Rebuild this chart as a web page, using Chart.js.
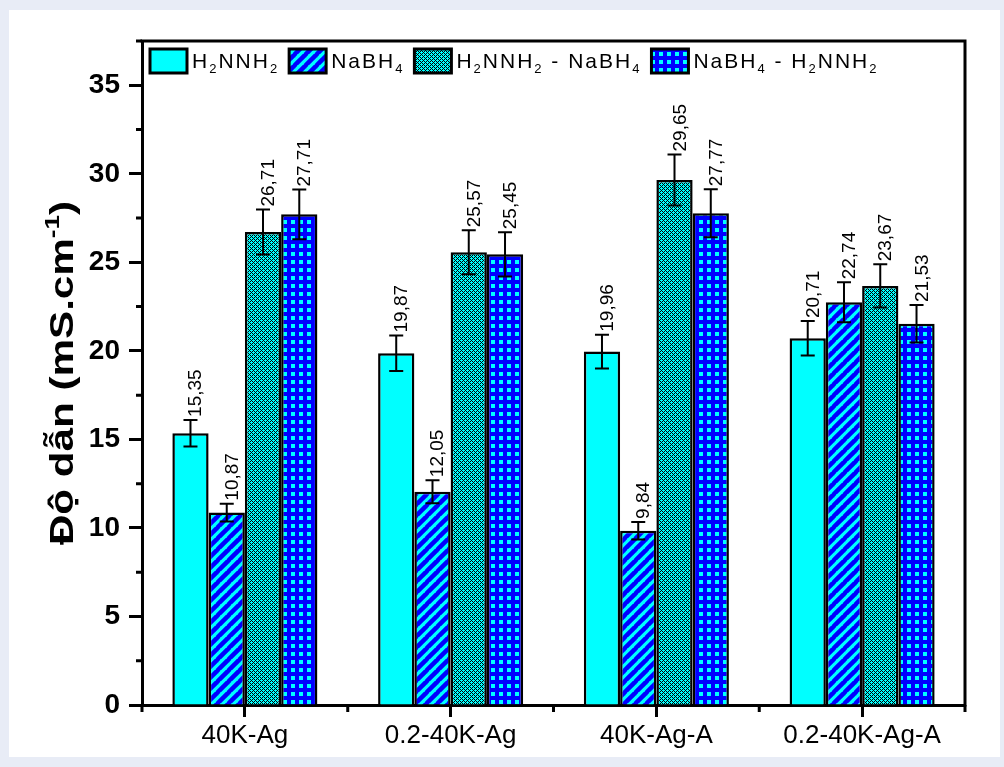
<!DOCTYPE html>
<html><head><meta charset="utf-8">
<script src="https://cdn.jsdelivr.net/npm/chart.js@4.4.1/dist/chart.umd.min.js"></script>
<style>
html,body{margin:0;padding:0;background:#e8ecf6;width:1004px;height:767px;overflow:hidden}
#wrap{position:absolute;left:9px;top:10px;width:991px;height:747px;background:#fff}
</style></head><body>
<div id="wrap"><canvas id="c"></canvas></div>
<script>
const categories = ['40K-Ag', '0.2-40K-Ag', '40K-Ag-A', '0.2-40K-Ag-A'];
const seriesNames = ['H₂NNH₂', 'NaBH₄', 'H₂NNH₂ - NaBH₄', 'NaBH₄ - H₂NNH₂'];
const h2nnh2 = [15.35, 19.87, 19.96, 20.71];
const nabh4 = [10.87, 12.05, 9.84, 22.74];
const h2nnh2Nabh4 = [26.71, 25.57, 29.65, 23.67];
const nabh4H2nnh2 = [27.71, 25.45, 27.77, 21.53];
const errH2nnh2 = [0.75, 1.0, 0.95, 0.97];
const errNabh4 = [0.5, 0.65, 0.5, 1.13];
const errH2nnh2Nabh4 = [1.27, 1.24, 1.44, 1.22];
const errNabh4H2nnh2 = [1.4, 1.25, 1.36, 1.06];
const yTickValues = [0, 5, 10, 15, 20, 25, 30, 35];
const yMinorValues = [2.5, 7.5, 12.5, 17.5, 22.5, 27.5, 32.5, 37.5];
const yTitle = 'Độ dẫn (mS.cm⁻¹)';

const CYAN = '#00ffff', BLUE = '#0000ff';
function tile(w, h, draw) {
  const c = document.createElement('canvas'); c.width = w; c.height = h;
  const g = c.getContext('2d'); draw(g); return g.createPattern(c, 'repeat');
}
const patSolid = CYAN;
const patStripes = tile(11, 11, g => {
  g.fillStyle = CYAN; g.fillRect(0, 0, 11, 11);
  g.strokeStyle = BLUE; g.lineWidth = 4.5;
  for (const o of [-11, 0, 11]) { g.beginPath(); g.moveTo(o - 1, 12); g.lineTo(o + 12, -1); g.stroke(); }
});
const patCross = tile(4, 4, g => {
  g.fillStyle = CYAN; g.fillRect(0, 0, 4, 4);
  g.fillStyle = '#000';
  for (let y = 0; y < 4; y++) for (let x = 0; x < 4; x++) {
    if ((x + y) % 4 === 0 || ((x - y) % 4 + 4) % 4 === 0) g.fillRect(x, y, 1, 1);
  }
});
const patGrid = tile(8, 8, g => {
  g.fillStyle = BLUE; g.fillRect(0, 0, 8, 8);
  g.fillStyle = CYAN; g.fillRect(2, 2, 4, 4);
});

const seriesValues = [h2nnh2, nabh4, h2nnh2Nabh4, nabh4H2nnh2];
const seriesErrors = [errH2nnh2, errNabh4, errH2nnh2Nabh4, errNabh4H2nnh2];
const fills = [patSolid, patStripes, patCross, patGrid];

const SUB = {'₀':'0','₁':'1','₂':'2','₃':'3','₄':'4','₅':'5','₆':'6','₇':'7','₈':'8','₉':'9'};
const SUP = {'⁻':'-','¹':'1','²':'2'};
function richRuns(text) {
  const runs = [];
  for (const ch of text) {
    let type = 0, c = ch;
    if (SUB[ch]) { type = 1; c = SUB[ch]; } else if (SUP[ch]) { type = 2; c = SUP[ch]; }
    const last = runs[runs.length - 1];
    if (last && last.type === type) last.s += c; else runs.push({ s: c, type });
  }
  return runs;
}
function drawRich(ctx, text, x, y, f, doDraw) {
  let cx = x;
  for (const r of richRuns(text)) {
    const sz = r.type ? f.size * 0.62 : f.size;
    ctx.font = `${f.weight} ${sz}px ${f.family}`;
    const dy = r.type === 1 ? f.size * 0.22 : r.type === 2 ? -f.size * 0.42 : 0;
    if (doDraw) ctx.fillText(r.s, cx, y + dy);
    cx += ctx.measureText(r.s).width;
  }
  return cx - x;
}

const extras = {
  id: 'extras',
  afterDatasetsDraw(chart) {
    const ctx = chart.ctx, ys = chart.scales.y;
    ctx.save();
    chart.data.datasets.forEach((ds, di) => {
      const meta = chart.getDatasetMeta(di);
      meta.data.forEach((bar, i) => {
        const v = ds.data[i], e = seriesErrors[di][i];
        const x = bar.x, yt = ys.getPixelForValue(v + e), yb = ys.getPixelForValue(v - e);
        ctx.strokeStyle = '#000'; ctx.lineWidth = 2;
        ctx.beginPath();
        ctx.moveTo(x, yt); ctx.lineTo(x, yb);
        ctx.moveTo(x - 7, yt); ctx.lineTo(x + 7, yt);
        ctx.moveTo(x - 7, yb); ctx.lineTo(x + 7, yb);
        ctx.stroke();
        ctx.save();
        ctx.translate(x + 11, yt - 3);
        ctx.rotate(-Math.PI / 2);
        ctx.fillStyle = '#000';
        ctx.font = '19px "Liberation Sans", Arial, sans-serif';
        ctx.textAlign = 'left'; ctx.textBaseline = 'alphabetic';
        ctx.fillText(v.toFixed(2).replace('.', ','), 0, 0);
        ctx.restore();
      });
    });
    ctx.restore();
  },
  afterDraw(chart) {
    const ctx = chart.ctx, a = chart.chartArea, ys = chart.scales.y, xs = chart.scales.x;
    ctx.save();
    ctx.strokeStyle = '#000'; ctx.lineWidth = 3; ctx.lineCap = 'butt';
    ctx.beginPath();
    ctx.moveTo(a.left - 1.5, a.top); ctx.lineTo(a.right + 1.5, a.top);
    ctx.moveTo(a.right, a.top); ctx.lineTo(a.right, a.bottom + 1.5);
    ctx.stroke();
    ctx.beginPath();
    for (const v of yMinorValues) {
      const y = ys.getPixelForValue(v);
      ctx.moveTo(a.left - 6, y); ctx.lineTo(a.left, y);
    }
    const n = categories.length;
    const step = (xs.getPixelForValue(1) - xs.getPixelForValue(0));
    for (let i = 0; i <= n; i++) {
      const x = xs.getPixelForValue(0) - step / 2 + i * step;
      ctx.moveTo(x, a.bottom); ctx.lineTo(x, a.bottom + 7);
    }
    ctx.stroke();
    // legend
    const lf = { size: 21, weight: 'normal', family: '"Liberation Sans", Arial, sans-serif' };
    let lx = a.left + 8; const top = a.top + 8, sh = 24, sw = 37;
    ctx.textBaseline = 'alphabetic';
    chart.data.datasets.forEach((ds) => {
      ctx.fillStyle = ds.backgroundColor;
      ctx.fillRect(lx, top, sw, sh);
      ctx.strokeStyle = '#000'; ctx.lineWidth = 3;
      ctx.strokeRect(lx, top, sw, sh);
      lx += sw + 5;
      ctx.fillStyle = '#000';
      ctx.letterSpacing = '2px';
      const w = drawRich(ctx, ds.label, lx, top + sh / 2 + 7, lf, true);
      ctx.letterSpacing = '0px';
      lx += w + 10;
    });
    // y title
    const tf = { size: 34, weight: 'bold', family: '"Liberation Sans", Arial, sans-serif' };
    ctx.fillStyle = '#000';
    const tw = drawRich(ctx, yTitle, 0, 0, tf, false);
    ctx.translate(52, (a.top + a.bottom) / 2);
    ctx.rotate(-Math.PI / 2);
    ctx.scale(1.24, 1);
    ctx.textBaseline = 'alphabetic';
    drawRich(ctx, yTitle, -tw / 2, tf.size * 0.36, tf, true);
    ctx.restore();
  }
};

new Chart(document.getElementById('c'), {
  type: 'bar',
  data: {
    labels: categories,
    datasets: seriesNames.map((name, i) => ({
      label: name,
      data: seriesValues[i],
      backgroundColor: fills[i],
      borderColor: '#000',
      borderWidth: 2.5,
      categoryPercentage: 0.705,
      barPercentage: 1.0
    }))
  },
  options: {
    responsive: true,
    maintainAspectRatio: false,
    animation: false,
    layout: { padding: { top: 31, right: 35, left: 0, bottom: 0 } },
    plugins: { legend: { display: false }, tooltip: { enabled: false } },
    scales: {
      x: {
        grid: { display: true, drawOnChartArea: false, offset: false, color: '#000', tickLength: 12, tickWidth: 3 },
        border: { display: true, color: '#000', width: 3 },
        ticks: { color: '#000', padding: 3, autoSkip: false, maxRotation: 0,
          font: { family: '"Liberation Sans", Arial, sans-serif', size: 26 } },
        afterFit(s) { s.height = 52; }
      },
      y: {
        min: 0, max: 37.5,
        afterBuildTicks(s) { s.ticks = yTickValues.map(v => ({ value: v })); },
        grid: { display: true, drawOnChartArea: false, color: '#000', tickLength: 13, tickWidth: 3 },
        border: { display: true, color: '#000', width: 3 },
        ticks: { color: '#000', padding: 9,
          font: { family: '"Liberation Sans", Arial, sans-serif', size: 28, weight: 'bold' } },
        afterFit(s) { s.width = 133; }
      }
    }
  },
  plugins: [extras]
});
</script>
</body></html>
